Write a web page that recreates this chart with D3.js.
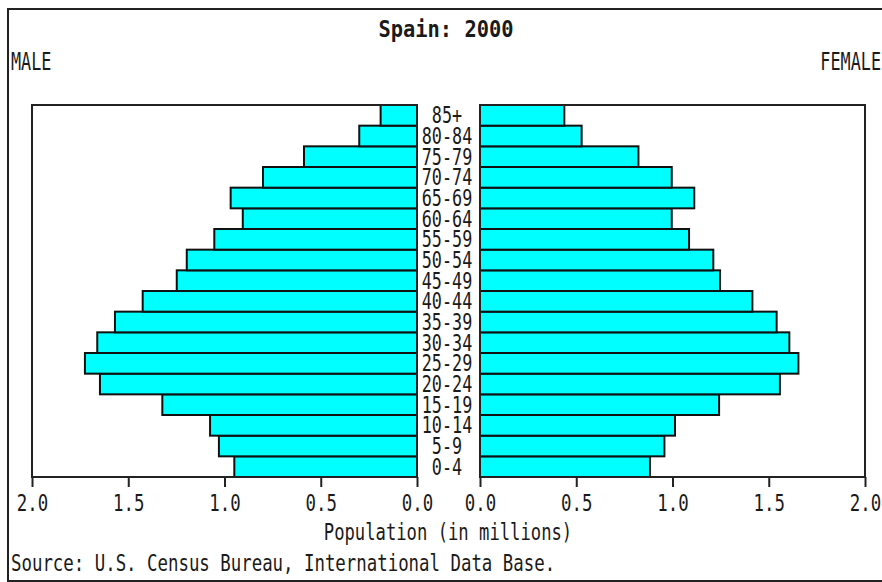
<html>
<head>
  <title>Spain: 2000</title>
  <meta charset="utf-8" />
  <script src="https://cdnjs.cloudflare.com/ajax/libs/d3/7.8.5/d3.min.js"></script>
  <style>
    body { margin: 0; background: #fff; }
    text { font-family: "DejaVu Sans Mono", "Liberation Mono", monospace; fill: #1a1a1a; }
    path.domain { stroke: none; }
    .tick > line { stroke: #222; stroke-width: 2; }
  </style>
</head>
<body>
  <svg></svg>
  <script>
    // age groups from youngest to oldest, values in millions
    var ageGroups = ["0-4", "5-9", "10-14", "15-19", "20-24", "25-29", "30-34", "35-39", "40-44",
                     "45-49", "50-54", "55-59", "60-64", "65-69", "70-74", "75-79", "80-84", "85+"]
    var maleValues   = [0.949, 1.029, 1.075, 1.323, 1.647, 1.725, 1.661, 1.569, 1.425,
                        1.248, 1.196, 1.053, 0.905, 0.968, 0.800, 0.587, 0.300, 0.189]
    var femaleValues = [0.883, 0.958, 1.013, 1.242, 1.558, 1.654, 1.607, 1.541, 1.415,
                        1.247, 1.212, 1.086, 0.996, 1.113, 0.996, 0.823, 0.528, 0.438]
    var xTicks = [0, 0.5, 1.0, 1.5, 2.0]

    var svg = d3.select("svg").attr("width", 882).attr("height", 582)

    var plotTop = 105, plotBottom = 477
    var xLeft  = d3.scaleLinear().domain([0, 2]).range([417, 32])
    var xRight = d3.scaleLinear().domain([0, 2]).range([480, 865])
    var yScale = d3.scaleBand().domain(ageGroups.slice().reverse()).range([plotTop, plotBottom])

    // outer frame
    svg.append("rect")
      .attr("x", 8).attr("y", 9).attr("width", 900).attr("height", 572)
      .style("fill", "none").style("stroke", "#222").style("stroke-width", 2)

    // stretched monospace text, like the old bitmap font
    function label(x, y, str, size, sy, anchor, bold) {
      return svg.append("text")
        .attr("transform", `translate(${x},${y}) scale(1,${sy})`)
        .attr("text-anchor", anchor)
        .style("font-size", size + "px")
        .style("font-weight", bold ? "bold" : "normal")
        .text(str)
    }

    label(446, 36.5, "Spain: 2000", 20.4, 1.12, "middle", true)
    label(11, 70, "MALE", 16.8, 1.45, "start")
    label(881, 70, "FEMALE", 16.8, 1.45, "end")

    // male bars
    svg.selectAll("rect.male")
      .data(maleValues)
      .enter()
      .append("rect")
        .attr("class", "male")
        .attr("x", d => xLeft(d))
        .attr("y", (d, i) => yScale(ageGroups[i]))
        .attr("width", d => xLeft(0) - xLeft(d))
        .attr("height", yScale.bandwidth())
        .style("fill", "#00ffff")
        .style("stroke", "#111")
        .style("stroke-width", 2)

    // female bars
    svg.selectAll("rect.female")
      .data(femaleValues)
      .enter()
      .append("rect")
        .attr("class", "female")
        .attr("x", xRight(0))
        .attr("y", (d, i) => yScale(ageGroups[i]))
        .attr("width", d => xRight(d) - xRight(0))
        .attr("height", yScale.bandwidth())
        .style("fill", "#00ffff")
        .style("stroke", "#111")
        .style("stroke-width", 2)

    // plot frames
    svg.append("rect")
      .attr("x", xLeft(2)).attr("y", plotTop)
      .attr("width", xLeft(0) - xLeft(2)).attr("height", plotBottom - plotTop)
      .style("fill", "none").style("stroke", "#222").style("stroke-width", 2)
    svg.append("rect")
      .attr("x", xRight(0)).attr("y", plotTop)
      .attr("width", xRight(2) - xRight(0)).attr("height", plotBottom - plotTop)
      .style("fill", "none").style("stroke", "#222").style("stroke-width", 2)

    // age labels
    ageGroups.forEach(function (g) {
      label(447, yScale(g) + yScale.bandwidth() / 2 + 8, g, 16.8, 1.32, "middle")
    })

    // x axes
    function xAxis(scale) {
      var g = svg.append("g")
        .attr("transform", `translate(0,${plotBottom})`)
        .call(d3.axisBottom(scale).tickValues(xTicks).tickFormat(d3.format(".1f")).tickSize(10))
      g.selectAll(".tick text")
        .attr("y", 0).attr("dy", 0)
        .attr("transform", "translate(0,34) scale(1,1.31)")
        .style("font-size", "17.4px")
    }
    xAxis(xLeft)
    xAxis(xRight)

    label(448, 540, "Population (in millions)", 17.2, 1.3, "middle")
    label(11, 571, "Source: U.S. Census Bureau, International Data Base.", 17.4, 1.3, "start")
  </script>
</body>
</html>
